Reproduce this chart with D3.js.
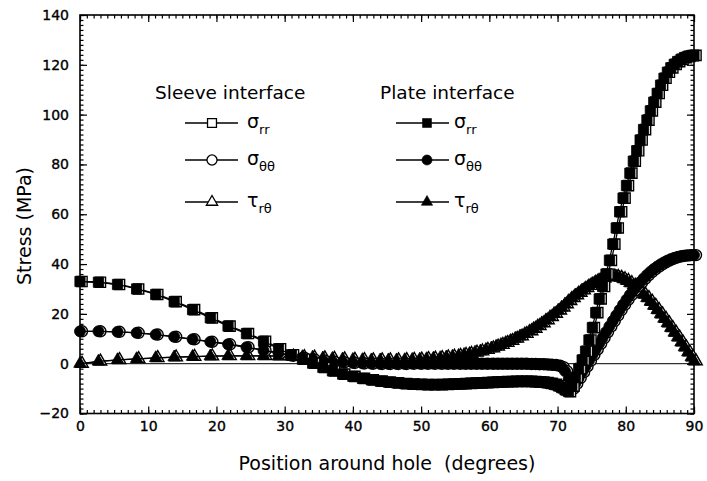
<!DOCTYPE html>
<html>
<head>
<meta charset="utf-8">
<script src="https://cdn.jsdelivr.net/npm/d3@7"></script>
<style>
  html, body { margin: 0; padding: 0; background: #fff; }
  svg text { font-family: "DejaVu Sans", "Liberation Sans", Arial, sans-serif; fill: #000; }
</style>
</head>
<body>
<div id="chart"></div>
<script>
// angles (degrees) at which the stresses were computed
const angles = [
  0, 2.7, 5.5, 8.3, 11.1, 13.8, 16.5, 19.1, 21.7, 24.4, 26.9, 29.1,
  31.0, 32.6, 34.1, 35.6, 37.0, 38.5, 40.0, 41.4, 42.7, 44.0,
  45.2, 46.4, 47.6, 48.7, 49.8, 50.8, 51.8, 52.8, 53.7, 54.6,
  55.5, 56.3, 57.1, 57.9, 58.7, 59.5, 60.3, 61.0, 61.7, 62.4,
  63.1, 63.8, 64.5, 65.2, 65.9, 66.5, 67.1, 67.7, 68.3, 68.9,
  69.5, 70.1, 70.6, 71.1, 71.6, 72.1, 72.6, 73.1, 73.6, 74.1,
  74.6, 75.1, 75.6, 76.1, 76.6, 77.1, 77.6, 78.1, 78.6, 79.1,
  79.6, 80.1, 80.6, 81.1, 81.6, 82.1, 82.6, 83.1, 83.6, 84.1,
  84.6, 85.1, 85.6, 86.1, 86.6, 87.1, 87.6, 88.1, 88.6, 89.1,
  89.6, 90.0
];

// sigma_rr (MPa)
const sigmaRR = [
  33.0, 32.7, 31.8, 30.0, 27.8, 24.9, 21.7, 18.4, 15.1, 12.1, 9.0, 6.0,
  3.6, 1.8, 0.2, -1.5, -2.9, -4.2, -5.1, -5.9, -6.5, -7.0,
  -7.4, -7.7, -8.0, -8.2, -8.3, -8.4, -8.4, -8.4, -8.3, -8.2,
  -8.1, -8.0, -7.9, -7.8, -7.7, -7.6, -7.5, -7.4, -7.3, -7.2,
  -7.2, -7.1, -7.1, -7.1, -7.1, -7.2, -7.3, -7.4, -7.6, -7.9,
  -8.3, -8.9, -9.6, -10.5, -11.2, -9.0, -5.5, -2.0, 1.5, 5.0,
  9.5, 14.5, 20.5, 26.0, 31.0, 36.0, 41.5, 48.0, 54.5, 61.0,
  66.5, 71.5, 76.5, 81.3, 85.5, 89.8, 94.0, 97.8, 101.5, 105.0,
  108.5, 111.8, 114.6, 117.0, 118.8, 120.2, 121.3, 122.2, 122.9, 123.4,
  123.7, 123.8
];

// sigma_thetatheta (MPa)
const sigmaTT = [
  13.0, 13.0, 12.8, 12.4, 11.7, 10.8, 9.8, 8.8, 7.8, 6.6, 5.3, 4.2,
  3.2, 2.4, 1.7, 1.2, 0.8, 0.5, 0.3, 0.1, 0.0, -0.1,
  -0.1, -0.1, -0.1, 0.0, 0.0, 0.0, 0.0, 0.0, 0.0, 0.0,
  0.0, 0.0, 0.0, 0.0, 0.0, 0.0, 0.0, 0.0, 0.0, 0.0,
  0.0, 0.0, 0.0, 0.0, -0.1, -0.1, -0.2, -0.2, -0.3, -0.4,
  -0.5, -0.8, -1.4, -3.0, -6.5, -10.0, -8.0, -5.7, -3.4, -1.1,
  1.2, 3.5, 5.8, 8.1, 10.4, 12.7, 15.0, 17.2, 19.4, 21.6,
  23.7, 25.7, 27.6, 29.4, 31.1, 32.7, 34.2, 35.6, 36.9, 38.0,
  39.0, 39.9, 40.7, 41.4, 42.0, 42.5, 42.9, 43.2, 43.4, 43.5,
  43.6, 43.6
];

// tau_rtheta (MPa)
const tauRT = [
  0.0, 0.9, 1.5, 1.9, 2.3, 2.6, 2.8, 3.0, 3.1, 3.1, 3.1, 3.0,
  2.9, 2.7, 2.5, 2.2, 2.0, 1.8, 1.6, 1.5, 1.4, 1.4,
  1.4, 1.4, 1.5, 1.6, 1.7, 1.9, 2.1, 2.3, 2.6, 2.9,
  3.2, 3.6, 4.0, 4.5, 5.0, 5.6, 6.2, 6.9, 7.6, 8.4,
  9.2, 10.1, 11.0, 12.0, 13.1, 14.1, 15.2, 16.3, 17.5, 18.8,
  20.1, 21.4, 22.6, 23.9, 25.2, 26.4, 27.5, 28.5, 29.5, 30.4,
  31.3, 32.1, 32.9, 33.6, 34.2, 34.7, 35.0, 35.1, 35.0, 34.6,
  34.0, 33.3, 32.4, 31.4, 30.3, 29.1, 27.8, 26.4, 24.9, 23.3,
  21.6, 19.9, 18.1, 16.3, 14.4, 12.5, 10.6, 8.6, 6.6, 4.6,
  2.6, 1.0
];

const xTicks = [0, 10, 20, 30, 40, 50, 60, 70, 80, 90];
const yTicks = [-20, 0, 20, 40, 60, 80, 100, 120, 140];
const interfaces = ['Sleeve interface', 'Plate interface'];
const components = [
  { sym: 'σ', sub: 'rr' },
  { sym: 'σ', sub: 'θθ' },
  { sym: 'τ', sub: 'rθ' }
];

const width = 707, height = 481;
const margin = { top: 15, right: 13, bottom: 67.5, left: 80 };

const svg = d3.select('#chart')
  .append('svg')
  .attr('width', width)
  .attr('height', height)
  .style('display', 'block')
  .style('background', '#fff');

const x = d3.scaleLinear().domain([0, 90]).range([margin.left, width - margin.right]);
const y = d3.scaleLinear().domain([-20, 140]).range([height - margin.bottom, margin.top]);

// axes with inward ticks on all four sides
const minorX = d3.range(0, 91, 1);
const minorY = d3.range(-20, 141, 2);

const styleAxis = g => {
  g.select('.domain').remove();
  g.selectAll('.tick line').attr('stroke', '#000').attr('stroke-width', 1.2);
  g.selectAll('text')
    .style('font-size', '14px')
    .attr('fill', '#000')
    .attr('stroke', '#000')
    .attr('stroke-width', 0.35);
};

svg.append('g')
  .attr('transform', `translate(0,${y.range()[0]})`)
  .call(d3.axisBottom(x).tickValues(minorX).tickFormat('').tickSize(-3.5))
  .call(styleAxis);
svg.append('g')
  .attr('transform', `translate(0,${y.range()[0]})`)
  .call(d3.axisBottom(x).tickValues(xTicks).tickSize(-7).tickPadding(8))
  .call(styleAxis);
svg.append('g')
  .attr('transform', `translate(0,${y.range()[1]})`)
  .call(d3.axisTop(x).tickValues(minorX).tickFormat('').tickSize(-3.5))
  .call(styleAxis);
svg.append('g')
  .attr('transform', `translate(0,${y.range()[1]})`)
  .call(d3.axisTop(x).tickValues(xTicks).tickFormat('').tickSize(-7))
  .call(styleAxis);

svg.append('g')
  .attr('transform', `translate(${x.range()[0]},0)`)
  .call(d3.axisLeft(y).tickValues(minorY).tickFormat('').tickSize(-3.5))
  .call(styleAxis);
svg.append('g')
  .attr('transform', `translate(${x.range()[0]},0)`)
  .call(d3.axisLeft(y).tickValues(yTicks).tickSize(-7).tickPadding(11))
  .call(styleAxis);
svg.append('g')
  .attr('transform', `translate(${x.range()[1]},0)`)
  .call(d3.axisRight(y).tickValues(minorY).tickFormat('').tickSize(-3.5))
  .call(styleAxis);
svg.append('g')
  .attr('transform', `translate(${x.range()[1]},0)`)
  .call(d3.axisRight(y).tickValues(yTicks).tickFormat('').tickSize(-7))
  .call(styleAxis);

// frame
svg.append('rect')
  .attr('x', x.range()[0])
  .attr('y', y.range()[1])
  .attr('width', x.range()[1] - x.range()[0])
  .attr('height', y.range()[0] - y.range()[1])
  .attr('fill', 'none')
  .attr('stroke', '#000')
  .attr('stroke-width', 1.6);

// axis titles
svg.append('text')
  .attr('x', (x.range()[0] + x.range()[1]) / 2)
  .attr('y', 470)
  .attr('text-anchor', 'middle')
  .style('font-size', '19px')
  .style('white-space', 'pre')
  .text('Position around hole  (degrees)');

svg.append('text')
  .attr('transform', 'translate(31,226) rotate(-90)')
  .attr('text-anchor', 'middle')
  .style('font-size', '19px')
  .text('Stress (MPa)');

// zero reference line
svg.append('line')
  .attr('x1', x(0)).attr('x2', x(90))
  .attr('y1', y(0)).attr('y2', y(0))
  .attr('stroke', '#000')
  .attr('stroke-width', 1);

// data
const seriesValues = [sigmaRR, sigmaTT, tauRT];
const symbols = [d3.symbolSquare, d3.symbolCircle, d3.symbolTriangle];
const symbolSizes = [105, 95, 68];

const line = d3.line()
  .x((d, i) => x(angles[i]))
  .y(d => y(d));

const plot = svg.append('g');

// draw tau first, sigma_rr last; sleeve (open) sits just behind plate (filled)
[2, 1, 0].forEach(k => {
  interfaces.forEach((name, j) => {
    const open = j === 0;
    const g = plot.append('g')
      .attr('transform', open ? 'translate(2,0)' : null);

    g.append('path')
      .datum(seriesValues[k])
      .attr('fill', 'none')
      .attr('stroke', '#000')
      .attr('stroke-width', 1.3)
      .attr('d', line);

    g.selectAll('.pt')
      .data(seriesValues[k])
      .join('path')
      .attr('class', 'pt')
      .attr('transform', (d, i) => `translate(${x(angles[i])},${y(d)})`)
      .attr('d', d3.symbol().type(symbols[k]).size(symbolSizes[k]))
      .attr('fill', open ? '#fff' : '#000')
      .attr('stroke', '#000')
      .attr('stroke-width', open ? 1.4 : 0.8);
  });
});

// legend
const legendCols = [
  { title: 'Sleeve interface', tx: 155, x1: 185, x2: 238, mx: 212, lx: 247, open: true },
  { title: 'Plate interface', tx: 380, x1: 396, x2: 449, mx: 427, lx: 454, open: false }
];
const legendRows = [123, 160, 202];
const legendSizes = [80, 80, 55];

legendCols.forEach(col => {
  const lg = svg.append('g');
  lg.append('text')
    .attr('x', col.tx)
    .attr('y', 99)
    .style('font-size', '18.5px')
    .text(col.title);

  components.forEach((c, k) => {
    const ry = legendRows[k];
    lg.append('line')
      .attr('x1', col.x1).attr('x2', col.x2)
      .attr('y1', ry).attr('y2', ry)
      .attr('stroke', '#000')
      .attr('stroke-width', 1.3);
    lg.append('path')
      .attr('transform', `translate(${col.mx},${ry})`)
      .attr('d', d3.symbol().type(symbols[k]).size(legendSizes[k]))
      .attr('fill', col.open ? '#fff' : '#000')
      .attr('stroke', '#000')
      .attr('stroke-width', col.open ? 1.3 : 0.6);
    const t = lg.append('text')
      .attr('x', col.lx)
      .attr('y', ry + 5)
      .style('font-size', '19px');
    t.append('tspan').text(c.sym);
    t.append('tspan')
      .attr('dy', 6)
      .style('font-size', '13px')
      .text(c.sub);
  });
});
</script>
</body>
</html>
